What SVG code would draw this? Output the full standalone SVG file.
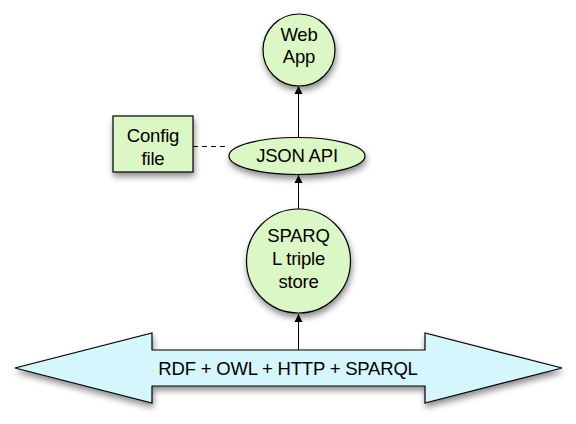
<svg xmlns="http://www.w3.org/2000/svg" width="576" height="424" viewBox="0 0 576 424">
<style>
.node{fill:#dcf7c6;stroke:#000;stroke-width:1.2}
.band{fill:#d6f6fd;stroke:#000;stroke-width:1.2}
.t{font-family:"Liberation Sans",Arial,sans-serif;font-size:18.5px;fill:#000;text-anchor:middle;letter-spacing:-0.2px}
.edge{stroke:#000;stroke-width:1;fill:none}
</style>
<defs>
<filter id="sh" x="-30%" y="-30%" width="160%" height="170%">
<feDropShadow dx="1" dy="4" stdDeviation="3" flood-color="#000" flood-opacity="0.45"/>
</filter>
<marker id="ah" viewBox="0 0 10 10" refX="10" refY="5" markerWidth="8" markerHeight="9" markerUnits="userSpaceOnUse" orient="auto">
<path d="M0,0 L10,5 L0,10 Z" fill="#000"/>
</marker>
</defs>
<g id="connectors">
<line class="edge" x1="298.5" y1="350" x2="298.5" y2="314" marker-end="url(#ah)"/>
<line class="edge" x1="298.5" y1="209" x2="298.5" y2="175" marker-end="url(#ah)"/>
<line class="edge" x1="298.5" y1="138" x2="298.5" y2="86" marker-end="url(#ah)"/>
<line class="edge" x1="193" y1="146.5" x2="229" y2="146.5" stroke-dasharray="5,4"/>
</g>
<g id="band">
<path class="band" filter="url(#sh)" d="M15,368 L152,333 L152,350 L425,350 L425,333 L562,368 L425,403 L425,386 L152,386 L152,403 Z"/>
<text class="t" x="288" y="375">RDF + OWL + HTTP + SPARQL</text>
</g>
<g id="webapp">
<circle class="node" filter="url(#sh)" cx="299" cy="50" r="36"/>
<text class="t" x="299" y="41">Web</text>
<text class="t" x="299" y="63">App</text>
</g>
<g id="jsonapi">
<ellipse class="node" filter="url(#sh)" cx="297" cy="156" rx="68" ry="18.5"/>
<text class="t" x="297" y="162">JSON API</text>
</g>
<g id="config">
<rect class="node" filter="url(#sh)" x="113" y="116" width="80" height="56"/>
<text class="t" x="153" y="142">Config</text>
<text class="t" x="153" y="165">file</text>
</g>
<g id="sparql">
<circle class="node" filter="url(#sh)" cx="298.5" cy="261" r="52"/>
<text class="t" x="298.5" y="242">SPARQ</text>
<text class="t" x="298.5" y="265">L triple</text>
<text class="t" x="298.5" y="288">store</text>
</g>
</svg>
